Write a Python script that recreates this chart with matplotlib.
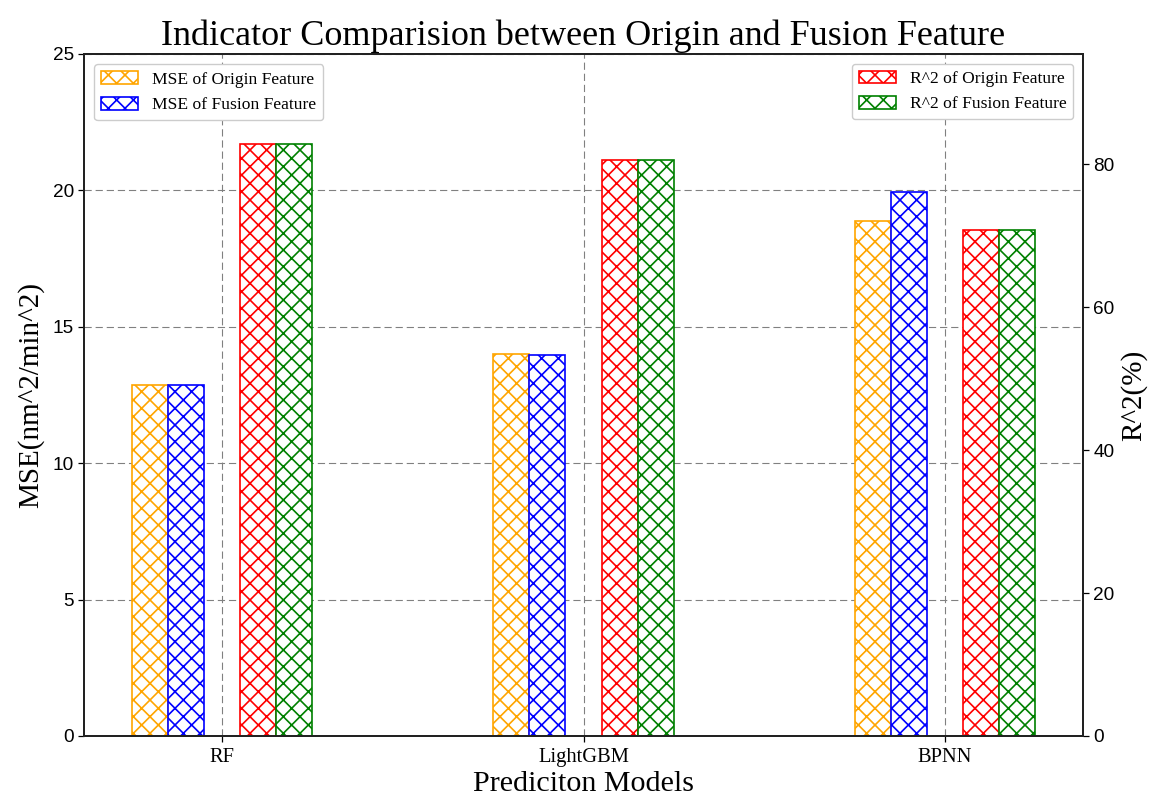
import matplotlib
matplotlib.use("Agg")
import matplotlib.pyplot as plt
import numpy as np

models = ["RF", "LightGBM", "BPNN"]
mse_origin = [12.87, 14.00, 18.89]
mse_fusion = [12.85, 13.97, 19.93]
r2_origin = [82.8, 80.6, 70.8]
r2_fusion = [82.8, 80.6, 70.8]

plt.rcParams['hatch.linewidth'] = 1.2
serif = ['Liberation Serif', 'DejaVu Serif']
sansn = ['Liberation Sans Narrow', 'Liberation Sans', 'DejaVu Sans']

DPI = 100
fig = plt.figure(figsize=(1153/DPI, 801/DPI), dpi=DPI)
ax = fig.add_axes([84/1153, 65/801, 999/1153, 682/801])
ax2 = ax.twinx()

x = np.arange(len(models))
w = 0.1
lw = 1.2
hatch = 'xx'
b1 = ax.bar(x - 0.2, mse_origin, w, facecolor='white', edgecolor='orange', hatch=hatch, linewidth=lw, label='MSE of Origin Feature')
b2 = ax.bar(x - 0.1, mse_fusion, w, facecolor='white', edgecolor='blue', hatch=hatch, linewidth=lw, label='MSE of Fusion Feature')
b3 = ax2.bar(x + 0.1, r2_origin, w, facecolor='white', edgecolor='red', hatch=hatch, linewidth=lw, label='R^2 of Origin Feature')
b4 = ax2.bar(x + 0.2, r2_fusion, w, facecolor='white', edgecolor='green', hatch=hatch, linewidth=lw, label='R^2 of Fusion Feature')

ax.set_xlim(-0.382, 2.382)
ax.set_ylim(0, 25)
ax2.set_ylim(0, 95.4)
ax.set_yticks([0, 5, 10, 15, 20, 25])
ax2.set_yticks([0, 20, 40, 60, 80])
ax.set_xticks(x)
ax.set_xticklabels(models, fontfamily=serif, fontsize=14.8)
for lab in ax.get_yticklabels() + ax2.get_yticklabels():
    lab.set_fontfamily(sansn)
    lab.set_fontsize(13.7)

ax.set_axisbelow(True)
ax.grid(True, linestyle=(0, (6.5, 3.5)), color='#808080', linewidth=0.8)

for a in (ax, ax2):
    for s in a.spines.values():
        s.set_linewidth(1.4)
        s.set_color('#222222')
    a.tick_params(length=4.3, width=0.9, pad=3)
ax.tick_params(axis='x', pad=4.5)

ax.set_title('Indicator Comparision between Origin and Fusion Feature', fontfamily=serif, fontsize=26, pad=6.5)
ax.set_xlabel('Prediciton Models', fontfamily=serif, fontsize=21.6, labelpad=3)
ax.set_ylabel('MSE(nm^2/min^2)', fontfamily=serif, fontsize=21, labelpad=6)
ax2.set_ylabel('R^2(%)', fontfamily=serif, fontsize=21, labelpad=4)

leg1 = ax.legend(handles=[b1, b2], loc='upper left', prop={'family': serif, 'size': 12.6},
                 borderaxespad=0.6, handlelength=2.1, handleheight=0.75, framealpha=1, edgecolor='#cccccc')
leg2 = ax2.legend(handles=[b3, b4], loc='upper right', prop={'family': serif, 'size': 12.6},
                  borderaxespad=0.55, handlelength=2.1, handleheight=0.75, framealpha=1, edgecolor='#cccccc')

fig.savefig('out.png', dpi=DPI)
